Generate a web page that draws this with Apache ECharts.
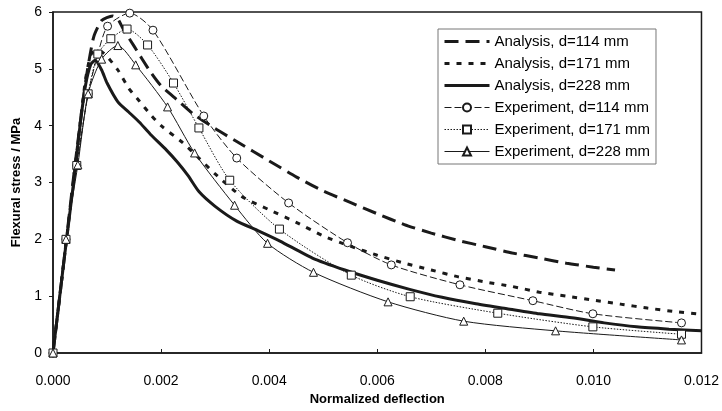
<!DOCTYPE html>
<html>
<head>
<meta charset="utf-8">
<script src="https://cdn.jsdelivr.net/npm/echarts@6/dist/echarts.min.js"></script>
<style>
  html, body { margin: 0; padding: 0; background: #fff; }
  #chart { width: 722px; height: 411px; }
</style>
</head>
<body>
<div id="chart"></div>
<script>
// values: [normalized deflection, flexural stress MPa]
var anal114 = [[0,0],[0.0002,1.6],[0.0004,3.25],[0.0006,4.75],[0.00075,5.55],[0.0009,5.85],[0.0011,5.93],[0.0012,5.88],[0.0013,5.7],[0.0015,5.4],[0.0018,4.95],[0.002,4.7],[0.0023,4.45],[0.0026,4.2],[0.003,3.95],[0.0034,3.72],[0.004,3.38],[0.0045,3.1],[0.005,2.85],[0.0055,2.65],[0.006,2.45],[0.0065,2.26],[0.007,2.11],[0.0075,1.98],[0.008,1.87],[0.0085,1.76],[0.009,1.67],[0.0095,1.58],[0.01,1.51],[0.0104,1.46]];
var anal171 = [[0,0],[0.0002,1.6],[0.0004,3.2],[0.0006,4.8],[0.0007,5.25],[0.0008,5.33],[0.0009,5.3],[0.001,5.22],[0.0012,4.98],[0.0014,4.66],[0.0016,4.43],[0.0018,4.2],[0.002,4.0],[0.0024,3.7],[0.0027,3.43],[0.003,3.15],[0.0035,2.75],[0.004,2.52],[0.0045,2.3],[0.005,2.06],[0.0055,1.88],[0.006,1.72],[0.0065,1.58],[0.007,1.46],[0.0075,1.34],[0.008,1.25],[0.0085,1.17],[0.009,1.07],[0.0095,1.0],[0.01,0.93],[0.0105,0.86],[0.011,0.79],[0.0115,0.73],[0.012,0.68]];
var anal228 = [[0,0],[0.0002,1.6],[0.0004,3.15],[0.0005,4.0],[0.0006,4.7],[0.0007,5.08],[0.00078,5.15],[0.0009,4.98],[0.001,4.75],[0.0012,4.42],[0.0014,4.24],[0.0016,4.06],[0.0018,3.85],[0.0021,3.57],[0.0023,3.36],[0.0025,3.12],[0.0027,2.84],[0.003,2.58],[0.0034,2.32],[0.0038,2.15],[0.0042,1.97],[0.0048,1.67],[0.0054,1.46],[0.006,1.28],[0.0066,1.12],[0.0072,0.98],[0.0078,0.87],[0.0084,0.78],[0.009,0.69],[0.0096,0.62],[0.0102,0.53],[0.0108,0.46],[0.0114,0.42],[0.012,0.39]];
var exp114 = [[0,0],[0.00024,2.0],[0.00044,3.3],[0.00065,4.56],[0.00083,5.26],[0.00101,5.75],[0.00142,5.98],[0.00185,5.68],[0.00279,4.17],[0.0034,3.43],[0.00436,2.64],[0.00545,1.94],[0.00626,1.55],[0.00753,1.2],[0.00888,0.92],[0.00999,0.69],[0.01163,0.53]];
var exp171 = [[0,0],[0.00024,2.0],[0.00044,3.3],[0.00065,4.56],[0.00083,5.26],[0.00107,5.53],[0.00137,5.7],[0.00175,5.42],[0.00223,4.75],[0.0027,3.96],[0.00327,3.04],[0.00419,2.18],[0.00552,1.37],[0.00661,0.99],[0.00823,0.7],[0.00999,0.46],[0.01163,0.33]];
var exp228 = [[0,0],[0.00024,2.0],[0.00046,3.31],[0.00065,4.56],[0.0009,5.17],[0.0012,5.41],[0.00153,5.07],[0.00212,4.33],[0.00262,3.52],[0.00336,2.6],[0.00397,1.93],[0.00482,1.42],[0.0062,0.9],[0.0076,0.56],[0.0093,0.39],[0.01163,0.23]];
var names = ['Analysis, d=114 mm','Analysis, d=171 mm','Analysis, d=228 mm','Experiment, d=114 mm','Experiment, d=171 mm','Experiment, d=228 mm'];

var font = 'Liberation Sans, Arial, sans-serif';
var ink = '#1a1a1a';

function analysis(name, data, type, width) {
  return {
    name: name, type: 'line', data: data, symbol: 'none', smooth: 0.2,
    lineStyle: { color: ink, width: width, type: type },
    itemStyle: { color: ink }, z: 2
  };
}
function experiment(name, data, type, sym) {
  return {
    name: name, type: 'line', data: data, symbol: sym, symbolSize: 8, smooth: 0.25,
    lineStyle: { color: ink, width: 1, type: type },
    itemStyle: { color: '#fff', borderColor: ink, borderWidth: 1 }, z: 3
  };
}

// analysis entries: thick line only, no marker; experiments: thin line + marker
var legendData = names.map(function (n, i) {
  if (i < 3) return { name: n, lineStyle: { width: 3 },
    itemStyle: { color: 'rgba(0,0,0,0)', borderWidth: 0, opacity: 0 } };
  return { name: n, lineStyle: { width: 1 } };
});

var chart = echarts.init(document.getElementById('chart'));
chart.setOption({
  animation: false,
  backgroundColor: '#fff',
  grid: { left: 53, right: 19, top: 12, bottom: 58, show: true, borderColor: ink, borderWidth: 1.5 },
  legend: {
    data: legendData, orient: 'vertical', left: 438, top: 29,
    padding: [5, 6, 5, 5], itemGap: 7, itemWidth: 45, itemHeight: 10,
    backgroundColor: '#fff', borderColor: '#777', borderWidth: 1,
    textStyle: { fontFamily: font, fontSize: 15, color: '#000' }
  },
  xAxis: {
    type: 'value', min: 0, max: 0.012, interval: 0.002,
    name: 'Normalized deflection', nameLocation: 'middle', nameGap: 40,
    nameTextStyle: { fontFamily: font, fontSize: 13, fontWeight: 'bold', color: '#000' },
    axisLine: { lineStyle: { color: ink, width: 1.5 } },
    axisTick: { inside: true, length: 4, lineStyle: { color: ink } },
    axisLabel: { fontFamily: font, fontSize: 14, color: '#000', margin: 21,
      formatter: function (v) { return v.toFixed(3); } },
    splitLine: { show: false }
  },
  yAxis: {
    type: 'value', min: 0, max: 6, interval: 1,
    name: 'Flexural stress / MPa', nameLocation: 'middle', nameGap: 28,
    nameTextStyle: { fontFamily: font, fontSize: 13, fontWeight: 'bold', color: '#000' },
    axisLine: { lineStyle: { color: ink, width: 1.5 } },
    axisTick: { length: 4, lineStyle: { color: ink } },
    axisLabel: { fontFamily: font, fontSize: 14, color: '#000', margin: 11 },
    splitLine: { show: false }
  },
  series: [
    analysis(names[0], anal114, [14, 7], 3),
    analysis(names[1], anal171, [5, 7], 3),
    analysis(names[2], anal228, 'solid', 3),
    experiment(names[3], exp114, [7, 3], 'circle'),
    experiment(names[4], exp171, [1.5, 1.5], 'rect'),
    experiment(names[5], exp228, 'solid', 'triangle')
  ]
});
</script>
</body>
</html>
